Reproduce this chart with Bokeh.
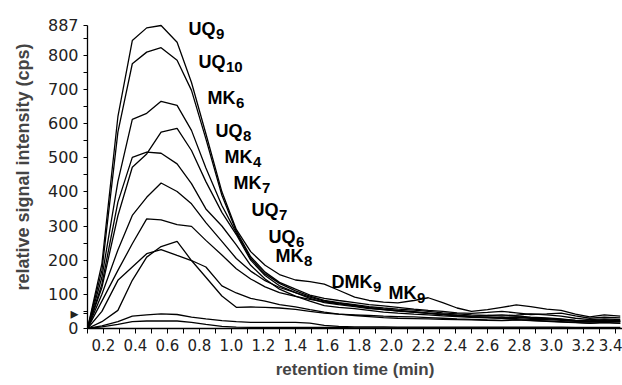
from bokeh.plotting import figure
from bokeh.models import FixedTicker, PrintfTickFormatter, Range1d
from bokeh.core.properties import value
from bokeh.embed import file_html
from bokeh.resources import INLINE

# ---- data ----
time_min = [0.10, 0.19, 0.29, 0.38, 0.47, 0.56, 0.66, 0.75, 0.84, 0.94, 1.03, 1.12, 1.21,
            1.30, 1.40, 1.49, 1.58, 1.67, 1.77, 1.86, 1.95, 2.04, 2.14, 2.23, 2.32, 2.41,
            2.50, 2.60, 2.69, 2.78, 2.87, 2.97, 3.06, 3.15, 3.24, 3.33, 3.43]

uq9 = [0, 190, 620, 843, 880, 887, 838, 720, 570, 400, 290, 225, 185, 158, 142, 137, 130, 112, 92,
       82, 77, 75, 82, 90, 76, 60, 50, 55, 62, 69, 64, 57, 53, 42, 34, 40, 36]
uq10 = [0, 170, 575, 775, 809, 822, 785, 697, 555, 390, 285, 210, 165, 135, 115, 98, 88, 82, 76,
        70, 66, 62, 57, 53, 50, 46, 44, 47, 50, 46, 41, 43, 45, 37, 30, 33, 31]
mk6 = [0, 150, 430, 612, 630, 665, 653, 580, 470, 360, 280, 205, 160, 132, 110, 95, 82, 76, 70,
       64, 60, 57, 54, 50, 46, 43, 40, 38, 36, 39, 43, 40, 36, 30, 26, 28, 26]
uq8 = [0, 120, 330, 472, 511, 575, 586, 521, 430, 340, 275, 200, 155, 125, 105, 88, 76, 70, 64,
       58, 55, 52, 48, 44, 40, 37, 34, 33, 31, 34, 31, 29, 27, 24, 22, 25, 23]
mk4 = [0, 130, 370, 501, 516, 513, 482, 424, 350, 300, 245, 185, 145, 115, 95, 80, 67, 62, 58,
       53, 48, 45, 42, 40, 37, 35, 33, 31, 30, 29, 27, 26, 24, 21, 19, 22, 20]
mk7 = [0, 100, 230, 331, 384, 426, 401, 365, 310, 255, 205, 168, 140, 120, 105, 92, 80, 74, 68,
       62, 57, 53, 49, 45, 42, 39, 36, 38, 40, 37, 33, 31, 28, 24, 22, 25, 22]
uq7 = [0, 80, 170, 248, 321, 318, 304, 299, 258, 215, 175, 145, 122, 105, 94, 85, 78, 72, 66,
       60, 55, 51, 48, 45, 42, 38, 35, 33, 31, 33, 30, 28, 26, 22, 20, 22, 20]
uq6 = [0, 20, 53, 141, 209, 240, 255, 199, 150, 95, 62, 63, 62, 60, 56, 50, 45, 42, 40,
       38, 36, 35, 34, 32, 30, 28, 27, 25, 24, 26, 24, 22, 20, 18, 16, 18, 16]
mk8 = [0, 50, 141, 180, 219, 231, 214, 199, 180, 125, 104, 88, 80, 70, 63, 55, 48, 42, 38,
       35, 32, 30, 29, 28, 27, 26, 25, 24, 23, 25, 23, 21, 19, 17, 15, 17, 15]
dmk9 = [0, 8, 20, 36, 40, 43, 41, 33, 28, 23, 20, 18, 18, 18, 18, 16, 9, 6, 5,
        5, 5, 4, 4, 4, 4, 4, 4, 4, 4, 4, 4, 4, 4, 3, 3, 3, 3]
mk9 = [0, 5, 12, 20, 22, 22, 22, 18, 12, 6, 4, 3, 3, 3, 3, 3, 3, 3, 2,
       2, 2, 2, 2, 2, 2, 2, 2, 2, 2, 2, 2, 2, 2, 2, 2, 2, 2]

series = [uq9, uq10, mk6, uq8, mk4, mk7, uq7, uq6, mk8, dmk9, mk9]

x_ticks = [0.2, 0.4, 0.6, 0.8, 1.0, 1.2, 1.4, 1.6, 1.8, 2.0, 2.2, 2.4, 2.6, 2.8, 3.0, 3.2, 3.4]
x_minor = [0.1, 0.3, 0.5, 0.7, 0.9, 1.1, 1.3, 1.5, 1.7, 1.9, 2.1, 2.3, 2.5, 2.7, 2.9, 3.1, 3.3]
y_ticks = [0, 100, 200, 300, 400, 500, 600, 700, 800, 887]
y_minor = [50, 150, 250, 350, 450, 550, 650, 750, 850]
marker_value = 45  # small arrow on the intensity axis

# curve labels
lab_main = ["UQ", "UQ", "MK", "UQ", "MK", "MK", "UQ", "UQ", "MK", "DMK", "MK"]
lab_sub = ["9", "10", "6", "8", "4", "7", "7", "6", "8", "9", "9"]
lab_x = [0.731, 0.794, 0.850, 0.900, 0.956, 1.013, 1.125, 1.231, 1.275, 1.625, 1.981]
lab_y = [878, 779, 676, 577, 501, 427, 348, 269, 211, 135, 105]

# ---- layout ----
X0, X1 = 0.1, 3.444
Y0, Y1 = 0, 945.5
W, H = 622, 385
BL, BR, BT, BB = 87, 0, 5, 57

p = figure(width=W, height=H, output_backend="svg", toolbar_location=None,
           x_range=Range1d(X0, X1), y_range=Range1d(Y0, Y1),
           min_border_left=BL, min_border_right=BR, min_border_top=BT, min_border_bottom=BB)
p.background_fill_color = "white"
p.border_fill_color = "white"
p.outline_line_color = None
p.xgrid.visible = False
p.ygrid.visible = False

for s in series:
    p.line(time_min, s, line_color="black", line_width=1.3)

# axes
xa = p.xaxis[0]
xa.ticker = FixedTicker(ticks=x_ticks, minor_ticks=x_minor)
xa.formatter = PrintfTickFormatter(format="%.1f")
xa.axis_label = "retention time (min)"
xa.axis_label_text_font = "Liberation Sans"
xa.axis_label_text_font_style = "bold"
xa.axis_label_text_font_size = "17px"
xa.axis_label_standoff = 6
xa.major_label_text_font = "DejaVu Sans"
xa.major_label_text_font_size = "15px"
xa.major_label_text_color = "#222222"
xa.major_label_standoff = 5
xa.major_tick_out = 5
xa.major_tick_in = 0
xa.minor_tick_out = 5
xa.minor_tick_in = 0
xa.axis_line_width = 1.3

ya = p.yaxis[0]
ya.ticker = FixedTicker(ticks=sorted(y_ticks + [marker_value]), minor_ticks=y_minor)
ya.major_label_overrides = {marker_value: "\u25B8"}
ya.bounds = (0, 887)
ya.axis_label = "relative signal intensity (cps)"
ya.axis_label_text_font = "Liberation Sans"
ya.axis_label_text_font_style = "bold"
ya.axis_label_text_font_size = "18px"
ya.axis_label_standoff = 12
ya.major_label_text_font = "DejaVu Sans"
ya.major_label_text_font_size = "16px"
ya.major_label_text_color = "#222222"
ya.major_label_standoff = 5
ya.major_tick_out = 4
ya.major_tick_in = 0
ya.minor_tick_out = 4
ya.minor_tick_in = 0
ya.axis_line_width = 1.3

# curve labels with subscripts
px_x = (W - BL - BR) / (X1 - X0)
px_y = (H - BT - BB) / (Y1 - Y0)
main_w = {"UQ": 27.5, "MK": 28.5, "DMK": 41.5}
sub_x = [x + main_w[m] / px_x for x, m in zip(lab_x, lab_main)]
sub_y = [y - 5.0 / px_y for y in lab_y]

p.text(x=lab_x, y=lab_y, text=lab_main, text_font=value("Liberation Sans"),
       text_font_style="bold", text_font_size="18px", text_color="black",
       text_baseline="alphabetic", text_align="left")
p.text(x=sub_x, y=sub_y, text=lab_sub, text_font=value("Liberation Sans"),
       text_font_style="bold", text_font_size="15px", text_color="black",
       text_baseline="alphabetic", text_align="left")

open("out.html", "w").write(file_html(p, INLINE))
